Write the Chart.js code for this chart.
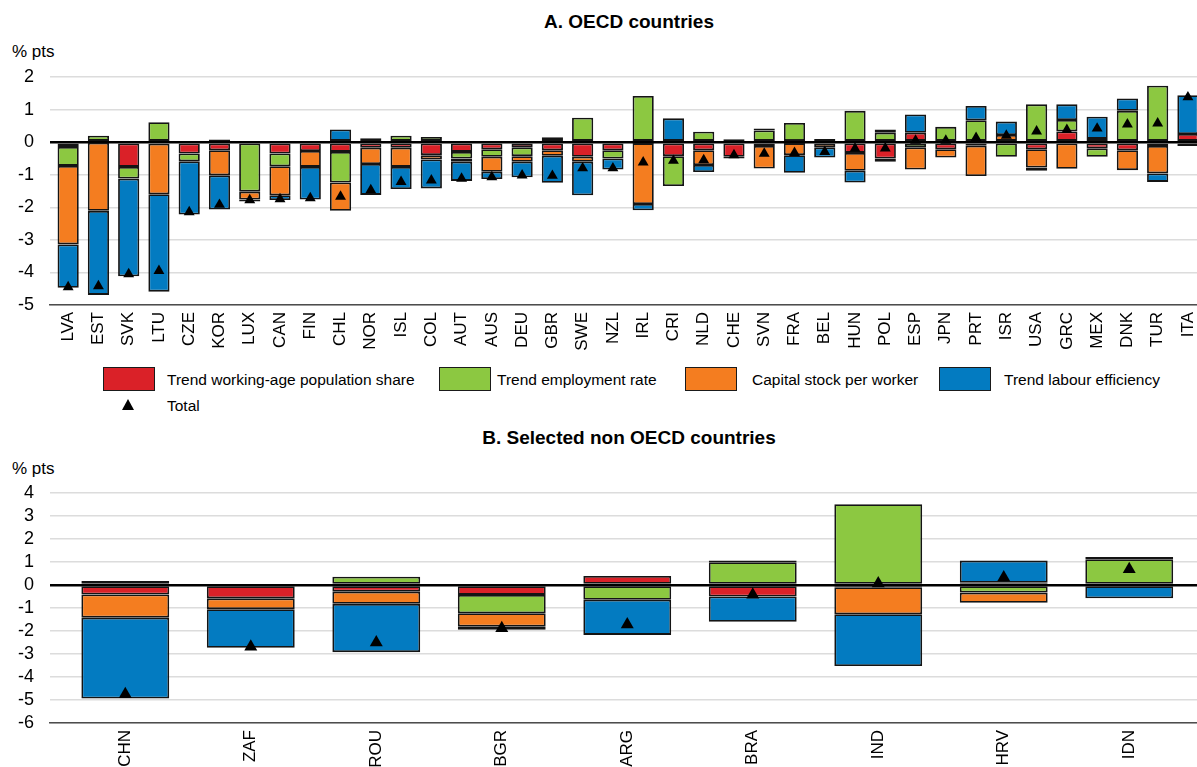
<!DOCTYPE html>
<html lang="en">
  <head>
    <meta charset="UTF-8" />
    <title>Potential growth contributions</title>
    <script src="https://cdn.jsdelivr.net/npm/chart.js"></script>
    <style>
      body {
        margin: 0;
        width: 1197px;
        height: 767px;
        position: relative;
        overflow: hidden;
        background: #fff;
        font-family: "Liberation Sans", Arial, sans-serif;
        color: #000;
      }
      canvas {
        position: absolute;
        left: 0;
      }
      .title {
        position: absolute;
        left: 0;
        width: 1258px;
        text-align: center;
        font-weight: bold;
        font-size: 19px;
        line-height: 19px;
      }
      .unit {
        position: absolute;
        left: 12px;
        font-size: 17px;
        line-height: 17px;
      }
      .box {
        position: absolute;
        top: 367px;
        width: 50px;
        height: 22px;
        border: 1px solid #1a1a1a;
      }
      .leg {
        position: absolute;
        font-size: 15.5px;
        line-height: 16px;
      }
      .tri {
        position: absolute;
        left: 122px;
        top: 399px;
        width: 0;
        height: 0;
        border-left: 6.5px solid transparent;
        border-right: 6.5px solid transparent;
        border-bottom: 11px solid #000;
      }
    </style>
  </head>
  <body>
    <div class="title" style="top: 12px">A. OECD countries</div>
    <div class="unit" style="top: 43px">% pts</div>
    <canvas id="chartA" width="1197" height="365" style="top: 0"></canvas>

    <div class="box" style="left: 103px; background: #da2128"></div>
    <div class="leg" style="left: 167px; top: 372px">Trend working-age population share</div>
    <div class="box" style="left: 439px; background: #8cc841"></div>
    <div class="leg" style="left: 497px; top: 372px">Trend employment rate</div>
    <div class="box" style="left: 685px; background: #f47d20"></div>
    <div class="leg" style="left: 752px; top: 372px">Capital stock per worker</div>
    <div class="box" style="left: 939px; background: #037bc1"></div>
    <div class="leg" style="left: 1004px; top: 372px">Trend labour efficiency</div>
    <div class="tri"></div>
    <div class="leg" style="left: 167px; top: 398px">Total</div>

    <div class="title" style="top: 428px">B. Selected non OECD countries</div>
    <div class="unit" style="top: 460px">% pts</div>
    <canvas id="chartB" width="1197" height="347" style="top: 420px"></canvas>

    <script>
      // Panel A: OECD countries
      const countriesA = ["LVA", "EST", "SVK", "LTU", "CZE", "KOR", "LUX", "CAN", "FIN", "CHL",
        "NOR", "ISL", "COL", "AUT", "AUS", "DEU", "GBR", "SWE", "NZL", "IRL", "CRI", "NLD",
        "CHE", "SVN", "FRA", "BEL", "HUN", "POL", "ESP", "JPN", "PRT", "ISR", "USA", "GRC",
        "MEX", "DNK", "TUR", "ITA"];
      const workingAgeA = [-0.15, -0.02, -0.76, -0.05, -0.35, -0.25, -0.04, -0.35, -0.27, -0.3,
        -0.17, -0.17, -0.4, -0.3, -0.22, -0.16, -0.25, -0.45, -0.25, -0.03, -0.43, -0.25,
        -0.45, -0.12, -0.03, 0.1, -0.33, -0.5, 0.29, -0.22, -0.11, 0, -0.22, 0.33,
        -0.19, -0.25, -0.12, 0.25];
      const employmentA = [-0.58, 0.2, -0.36, 0.61, -0.24, 0.08, -1.48, -0.39, 0, -0.94,
        0.12, 0.2, 0.16, -0.2, -0.23, -0.27, 0.15, 0.75, -0.25, 1.42, -0.92, 0.32,
        0.09, 0.36, 0.59, 0, 0.96, 0.29, -0.16, 0.47, 0.67, -0.45, 1.16, 0.35,
        -0.26, 0.96, 1.73, -0.12];
      const capitalA = [-2.41, -2.09, 0, -1.55, 0, -0.77, -0.24, -0.89, -0.49, -0.87,
        -0.5, -0.59, -0.13, -0.1, -0.46, -0.17, -0.17, -0.15, 0, -1.87, 0, -0.45,
        0, -0.69, -0.37, -0.16, -0.55, 0.1, -0.68, -0.25, -0.93, 0.22, -0.56, -0.82,
        0.1, -0.61, -0.84, 0];
      const efficiencyA = [-1.33, -2.58, -3.0, -2.99, -1.63, -1.05, -0.06, -0.15, -1.0, 0.39,
        -0.95, -0.68, -0.89, -0.59, -0.22, -0.48, -0.83, -1.03, -0.34, -0.19, 0.73, -0.22,
        -0.05, 0.06, -0.54, -0.31, -0.36, -0.1, 0.56, 0, 0.44, 0.41, -0.1, 0.48,
        0.68, 0.38, -0.26, 1.19];
      const totalA = [-4.45, -4.42, -4.05, -3.95, -2.15, -1.92, -1.78, -1.75, -1.72, -1.67,
        -1.47, -1.22, -1.17, -1.12, -1.07, -1.02, -1.03, -0.8, -0.8, -0.62, -0.57, -0.55,
        -0.4, -0.35, -0.33, -0.3, -0.2, -0.19, 0.05, 0.05, 0.13, 0.2, 0.33, 0.38,
        0.42, 0.55, 0.58, 1.38];

      // Panel B: selected non OECD countries
      const countriesB = ["CHN", "ZAF", "ROU", "BGR", "ARG", "BRA", "IND", "HRV", "IDN"];
      const workingAgeB = [-0.41, -0.58, -0.29, -0.43, 0.39, -0.5, -0.1, 0.1, 0];
      const employmentB = [0.17, 0, 0.36, -0.8, -0.64, 0.99, 3.51, -0.33, 1.12];
      const capitalB = [-1.01, -0.47, -0.53, -0.58, 0, 0.08, -1.17, -0.44, 0.1];
      const efficiencyB = [-3.52, -1.68, -2.1, -0.14, -1.53, -1.1, -2.25, 0.96, -0.58];
      const totalB = [-4.75, -2.68, -2.5, -1.88, -1.72, -0.42, 0.07, 0.33, 0.68];

      const seriesNames = ["Trend working-age population share", "Trend employment rate",
        "Capital stock per worker", "Trend labour efficiency"];
      const seriesColors = ["#da2128", "#8cc841", "#f47d20", "#037bc1"];

      function points(values) {
        return values.map((v, i) => ({ x: i, y: v }));
      }

      function makeChart(id, labels, series, total, cfg) {
        const datasets = series.map((values, k) => ({
          type: "bar",
          label: seriesNames[k],
          data: points(values),
          backgroundColor: seriesColors[k],
          borderColor: "#141414",
          borderWidth: 1.8,
          borderSkipped: false,
          barPercentage: 0.7,
          categoryPercentage: 1,
          order: 1,
        }));
        datasets.push({
          type: "line",
          label: "Total",
          data: points(total),
          showLine: false,
          stack: "total",
          pointStyle: "triangle",
          pointRadius: cfg.marker,
          pointBackgroundColor: "#000",
          pointBorderWidth: 0,
          order: 0,
        });

        new Chart(document.getElementById(id), {
          type: "bar",
          data: { datasets },
          options: {
            responsive: false,
            animation: false,
            layout: { autoPadding: false, padding: { top: cfg.top, left: 0, right: 0, bottom: 0 } },
            plugins: { legend: { display: false }, tooltip: { enabled: false } },
            scales: {
              x: {
                type: "linear",
                stacked: true,
                offset: false,
                min: -0.6,
                max: cfg.xMax,
                grid: { display: false, drawTicks: false, offset: false },
                border: { display: true, color: "#4d4d4d", width: 1.5 },
                ticks: {
                  stepSize: 1,
                  includeBounds: false,
                  autoSkip: false,
                  maxRotation: 90,
                  minRotation: 90,
                  padding: 7,
                  color: "#000",
                  font: { family: "Liberation Sans", size: 17 },
                  callback: (v) => labels[v] || "",
                },
                afterFit: (s) => {
                  s.height = cfg.xHeight;
                  s.paddingLeft = 0;
                  s.paddingRight = 0;
                },
              },
              y: {
                stacked: true,
                min: cfg.yMin,
                max: cfg.yMax,
                border: { display: false },
                grid: {
                  drawTicks: false,
                  color: (c) => (c.tick.value === 0 ? "#000" : "#dcdcdc"),
                  lineWidth: (c) => (c.tick.value === 0 ? 2.5 : 1.5),
                },
                ticks: {
                  stepSize: 1,
                  autoSkip: false,
                  padding: 16,
                  color: "#000",
                  font: { family: "Liberation Sans", size: 18 },
                },
                afterFit: (s) => {
                  s.width = 50;
                  s.paddingTop = 0;
                  s.paddingBottom = 0;
                },
              },
            },
          },
        });
      }

      makeChart("chartA", countriesA, [workingAgeA, employmentA, capitalA, efficiencyA], totalA,
        { top: 77, xHeight: 60, xMax: 37.3, yMin: -5, yMax: 2, marker: 6.3 });
      makeChart("chartB", countriesB, [workingAgeB, employmentB, capitalB, efficiencyB], totalB,
        { top: 73, xHeight: 44, xMax: 8.54, yMin: -6, yMax: 4, marker: 7.5 });
    </script>
  </body>
</html>
